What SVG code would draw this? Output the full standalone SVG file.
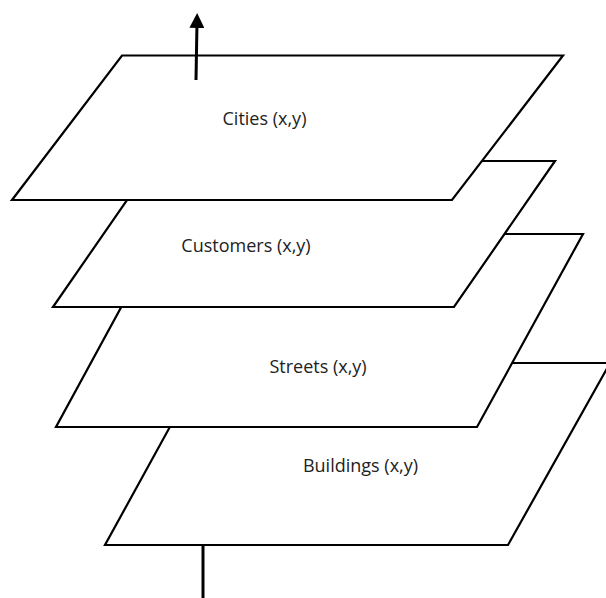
<svg xmlns="http://www.w3.org/2000/svg" width="606" height="598" viewBox="0 0 606 598">
<style>
.layer{fill:#fff;stroke:#000;stroke-width:2.2;stroke-linejoin:miter}
.lbl{font-family:"Open Sans","Liberation Sans",sans-serif;font-size:18px;fill:#222;text-anchor:middle}
.conn{stroke:#000;stroke-width:3;fill:none}
</style>
<defs>
<marker id="ah" markerWidth="5" markerHeight="5" refX="0" refY="2.5" orient="auto" markerUnits="strokeWidth">
<path d="M0,0 L5,2.5 L0,5 Z" fill="#000"/>
</marker>
</defs>
<rect width="606" height="598" fill="#fff"/>
<g id="buildings">
<polygon class="layer" points="205,363 610,363 508,545 105,545"/>
<text class="lbl" x="360.5" y="472">Buildings (x,y)</text>
</g>
<g id="streets">
<polygon class="layer" points="161,234 583,234 477,427 56,427"/>
<text class="lbl" x="318" y="373">Streets (x,y)</text>
</g>
<g id="customers">
<polygon class="layer" points="154,161 555,161 454,307 53,307"/>
<text class="lbl" x="246" y="252">Customers (x,y)</text>
</g>
<g id="cities">
<polygon class="layer" points="122,55.5 563,55.5 452,200 12,200"/>
<text class="lbl" x="264.5" y="125">Cities (x,y)</text>
</g>
<g id="connectors">
<line class="conn" x1="196" y1="80" x2="196.9" y2="28" marker-end="url(#ah)"/>
<line class="conn" x1="203" y1="545" x2="203" y2="598"/>
</g>
</svg>
